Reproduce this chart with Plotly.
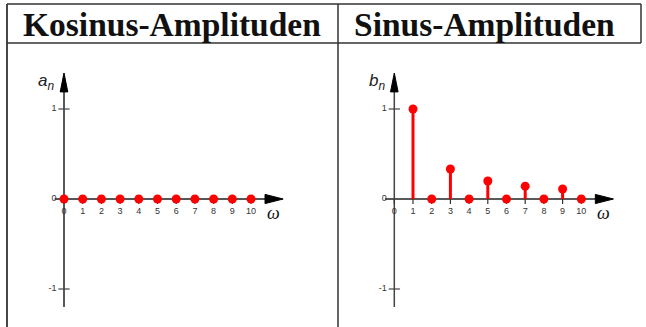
import plotly.graph_objects as go

# Fourier coefficients of the square wave
n_cos = list(range(0, 11))
a_n = [0, 0, 0, 0, 0, 0, 0, 0, 0, 0, 0]
n_sin = list(range(1, 11))
b_n = [1, 0, 0.333, 0, 0.2, 0, 0.143, 0, 0.111, 0]

x_ticks = list(range(0, 11))
x_tick_labels = [str(t) for t in x_ticks]
y_ticks = [1, 0, -1]
y_tick_labels = ["1", "0", "-1"]
headers = ["Kosinus-Amplituden", "Sinus-Amplituden"]
y_names = ["a<sub>n</sub>", "b<sub>n</sub>"]

W, H = 646, 327
UX, UY = 18.7, 90.0          # pixels per unit
RED = "#ff0000"
AX = "#222222"


def px(x):
    return x / W


def py(y):
    return 1 - y / H


fig = go.Figure()

# panel geometry: (left px, right px, origin x px), origin y px shared
panels = [(8, 337, 64.0), (339, 646, 394.3)]
oy = 199.0
top_px, bot_px = 44, 327

shapes = []
annotations = []

for i, (l, r, ox) in enumerate(panels):
    xa = "xaxis" if i == 0 else "xaxis2"
    ya = "yaxis" if i == 0 else "yaxis2"
    xr = "x" if i == 0 else "x2"
    yr = "y" if i == 0 else "y2"
    fig.layout[xa] = dict(domain=[px(l), px(r)], range=[(l - ox) / UX, (r - ox) / UX],
                          visible=False, fixedrange=True, anchor=yr)
    fig.layout[ya] = dict(domain=[py(bot_px), py(top_px)],
                          range=[(oy - bot_px) / UY, (oy - top_px) / UY],
                          visible=False, fixedrange=True, anchor=xr)

    # x axis line with arrow head
    shapes.append(dict(type="line", xref=xr, yref=yr, x0=-0.5, x1=10.9, y0=0, y1=0,
                       line=dict(color="#555555" if i == 0 else AX, width=2 if i == 0 else 1.5),
                       layer="below"))
    hx = 4.6 / UY
    shapes.append(dict(type="path", xref=xr, yref=yr,
                       path=f"M 10.75,{hx} L 11.72,0 L 10.75,{-hx} Z",
                       fillcolor="black", line=dict(color="black", width=1)))
    # y axis line with arrow head
    shapes.append(dict(type="line", xref=xr, yref=yr, x0=0, x1=0, y0=-1.2, y1=1.2,
                       line=dict(color=AX if i == 0 else "#444444", width=1.5), layer="below"))
    hw = 3.8 / UX
    shapes.append(dict(type="path", xref=xr, yref=yr,
                       path=f"M {-hw},1.19 L 0,1.4 L {hw},1.19 Z",
                       fillcolor="black", line=dict(color="black", width=1)))
    # y ticks
    for t in y_ticks:
        if t != 0:
            shapes.append(dict(type="line", xref=xr, yref=yr, x0=-0.3, x1=0.3, y0=t, y1=t,
                               line=dict(color="#444444", width=1.2), layer="below"))
    # x ticks
    for t in x_ticks:
        shapes.append(dict(type="line", xref=xr, yref=yr, x0=t, x1=t, y0=0, y1=-0.055,
                           line=dict(color="#333333", width=1.2), layer="below"))

    # tick labels
    fig.add_trace(go.Scatter(x=x_ticks, y=[-0.145] * len(x_ticks), text=x_tick_labels,
                             mode="text", textposition="middle center",
                             textfont=dict(family="Liberation Sans", size=9, color="#333333"),
                             xaxis=xr, yaxis=yr, showlegend=False, hoverinfo="skip"))
    fig.add_trace(go.Scatter(x=[-0.4] * len(y_ticks), y=y_ticks, text=y_tick_labels,
                             mode="text", textposition="middle left",
                             textfont=dict(family="Liberation Sans", size=9, color="#333333"),
                             xaxis=xr, yaxis=yr, showlegend=False, hoverinfo="skip"))

    # axis names
    annotations.append(dict(xref=xr, yref=yr, x=-0.95, y=1.3, text=f"<i>{y_names[i]}</i>",
                            showarrow=False, font=dict(family="Liberation Sans", size=17, color="#222222")))
    annotations.append(dict(xref=xr, yref=yr, x=11.2, y=-0.16, text="<i>ω</i>",
                            showarrow=False, font=dict(family="Liberation Serif", size=18, color="#111111")))

    # header
    annotations.append(dict(xref="paper", yref="paper", x=px(l + 13), y=py(24.5),
                            xanchor="left", yanchor="middle", text=f"<b>{headers[i]}</b>",
                            showarrow=False, font=dict(family="Liberation Serif", size=33.5, color="#111111")))

# stems and dots
for xs, ys, xr, yr in [(n_cos, a_n, "x", "y"), (n_sin, b_n, "x2", "y2")]:
    sx, sy = [], []
    for xv, yv in zip(xs, ys):
        sx += [xv, xv, None]
        sy += [0, yv, None]
    fig.add_trace(go.Scatter(x=sx, y=sy, mode="lines", line=dict(color=RED, width=3),
                             xaxis=xr, yaxis=yr, showlegend=False, hoverinfo="skip"))
    fig.add_trace(go.Scatter(x=xs, y=ys, mode="markers", marker=dict(color=RED, size=9),
                             xaxis=xr, yaxis=yr, showlegend=False))

# table rules
line_c = "#333333"
for x0, y0, x1, y1, w in [
    (7, 4, 641, 4, 1.5),
    (7, 43, 641, 43, 1.3),
    (7, 4, 7, 327, 1.8),
    (338, 4, 338, 327, 1.5),
    (641, 4, 641, 43, 1.5),
]:
    shapes.append(dict(type="line", xref="paper", yref="paper", x0=px(x0), x1=px(x1),
                       y0=py(y0), y1=py(y1), line=dict(color=line_c, width=w)))

fig.update_layout(width=W, height=H, margin=dict(l=0, r=0, t=0, b=0),
                  paper_bgcolor="white", plot_bgcolor="rgba(0,0,0,0)",
                  shapes=shapes, annotations=annotations, showlegend=False)

fig.write_html("out.html", config={"displayModeBar": False})
